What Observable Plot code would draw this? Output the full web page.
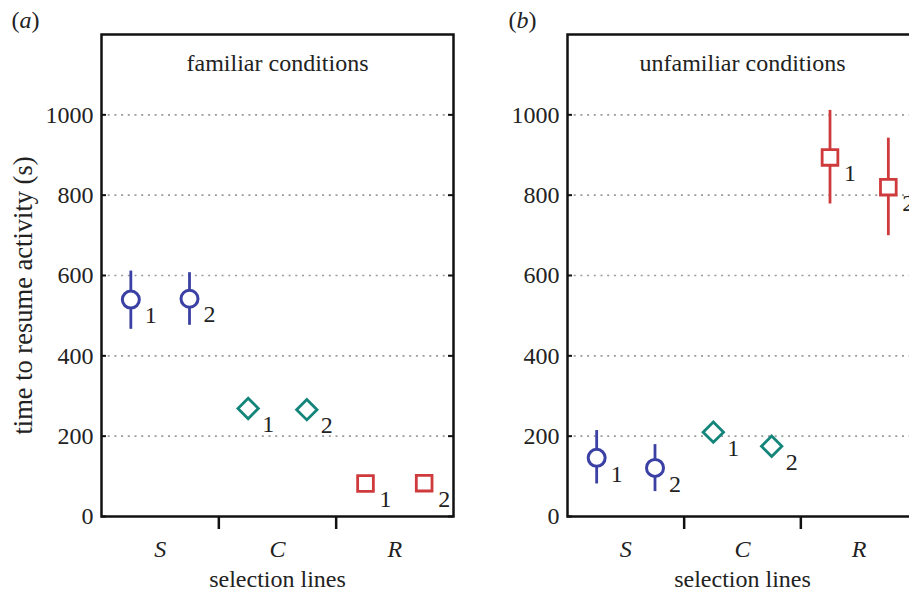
<!DOCTYPE html>
<html>
<head>
<meta charset="utf-8">
<script src="https://cdn.jsdelivr.net/npm/d3@7"></script>
<script src="https://cdn.jsdelivr.net/npm/@observablehq/plot@0.6"></script>
<style>
  html, body { margin: 0; padding: 0; background: #fff; }
  #wrap { position: relative; width: 909px; height: 593px; overflow: hidden; background: #fff; }
  #wrap svg { position: absolute; top: 0; overflow: visible; }
</style>
</head>
<body>
<div id="wrap"></div>
<script>
// ---- data ----
const groups = ["S", "C", "R"];
const lines = ["1", "2"];
const yTicks = [0, 200, 400, 600, 800, 1000];
const groupColors = ["#3b40a4", "#14857a", "#cf3a3d"];
const groupSymbols = ["circle", "diamond2", "square2"];

// familiar conditions (order: S1, S2, C1, C2, R1, R2)
const familiarMean = [540, 542, 269, 266, 82, 83];
const familiarLow  = [466, 476, null, null, null, null];
const familiarHigh = [611, 607, null, null, null, null];

// unfamiliar conditions
const unfamiliarMean = [146, 121, 210, 175, 894, 820];
const unfamiliarLow  = [81, 62, null, null, 778, 699];
const unfamiliarHigh = [214, 179, null, null, 1011, 942];

const FONT = "Liberation Serif";
const FS = 24;

function makeRows(means, lows, highs) {
  const rows = [];
  groups.forEach((g, gi) => {
    lines.forEach((l, li) => {
      const k = gi * lines.length + li;
      rows.push({group: g, line: l, pos: gi + (li === 0 ? 0.25 : 0.75),
                 mean: means[k], low: lows[k], high: highs[k]});
    });
  });
  return rows;
}

function panel({means, lows, highs, title, tag, width, marginLeft, marginRight, yTitle, left}) {
  const height = 593, marginTop = 34, marginBottom = 77;
  const frameW = width - marginLeft - marginRight;
  const rows = makeRows(means, lows, highs);
  const txt = {fontSize: FS, fontFamily: FONT, fill: "#222"};
  const marks = [
    Plot.gridY({ticks: yTicks.filter(v => v > 0), stroke: "#9a9a9a", strokeOpacity: 1, strokeWidth: 1.6, strokeDasharray: "2,4.7"}),
    Plot.ruleY(yTicks, {insetRight: frameW - 5, stroke: "#111", strokeWidth: 2}),
    Plot.ruleY(yTicks, {insetLeft: frameW - 5, stroke: "#111", strokeWidth: 2}),
    Plot.axisY({ticks: yTicks, tickSize: 0, tickPadding: 8, tickFormat: d => String(d), label: null, ...txt}),
    Plot.axisX({ticks: [1, 2], tickSize: 13, tickFormat: () => "", strokeWidth: 2.5, stroke: "#111", label: null}),
    Plot.frame({stroke: "#111", strokeWidth: 2.5}),
    Plot.ruleX(rows.filter(d => d.low != null), {x: "pos", y1: "low", y2: "high", stroke: "group", strokeWidth: 2.8}),
    Plot.dot(rows, {filter: d => d.group === "S", x: "pos", y: "mean", stroke: "group", symbol: "group", fill: "white", r: 8.5, strokeWidth: 3}),
    Plot.dot(rows, {filter: d => d.group === "C", x: "pos", y: "mean", stroke: "group", symbol: "group", fill: "white", r: 9.2, strokeWidth: 2.8}),
    Plot.dot(rows, {filter: d => d.group === "R", x: "pos", y: "mean", stroke: "group", symbol: "group", fill: "white", r: 10, strokeWidth: 2.8}),
    Plot.text(rows, {x: "pos", y: "mean", text: "line", dx: 14, dy: 16, textAnchor: "start", lineAnchor: "middle", ...txt}),
    Plot.text([title], {text: d => d, frameAnchor: "top", dy: 29, lineAnchor: "middle", textAnchor: "middle", ...txt}),
    Plot.text(groups, {x: (d, i) => i + 0.5, text: d => d, frameAnchor: "bottom", dy: 33, lineAnchor: "middle", fontStyle: "italic", ...txt}),
    Plot.text(["selection lines"], {text: d => d, frameAnchor: "bottom", dy: 63, lineAnchor: "middle", textAnchor: "middle", ...txt}),
    Plot.text([tag], {text: d => d, frameAnchor: "top-left", dx: tag === "(a)" ? -76 : -45, dy: -14, textAnchor: "middle", lineAnchor: "middle", ...txt})
  ];
  if (yTitle) {
    marks.push(Plot.text([yTitle], {text: d => d, frameAnchor: "left", dx: -78, dy: 20, rotate: -90, textAnchor: "middle", lineAnchor: "middle", ...txt, fontSize: 26.5}));
  }
  const svg = Plot.plot({
    width, height, marginLeft, marginRight, marginTop, marginBottom,
    style: "font-family: 'Liberation Serif', serif; font-size: 24px; background: white; overflow: visible;",
    x: {domain: [0, 3], axis: null},
    y: {domain: [0, 1200], axis: null},
    color: {domain: groups, range: groupColors},
    symbol: {domain: groups, range: groupSymbols},
    marks
  });
  const sel = d3.select(svg);
  sel.selectAll("g").each(function() {
    if (this.hasAttribute("font-family")) this.setAttribute("font-family", FONT);
  });
  sel.selectAll("text").each(function() {
    this.setAttribute("font-family", FONT);
    this.style.setProperty("font-family", "'Liberation Serif', serif", "important");
  });
  // italicize the letter inside the panel tag
  sel.selectAll("text").each(function() {
    if (this.textContent === tag) {
      const letter = tag.slice(1, -1);
      this.textContent = "";
      const t = d3.select(this);
      t.append("tspan").text("(");
      t.append("tspan").attr("font-style", "italic").text(letter);
      t.append("tspan").text(")");
    }
  });
  svg.style.left = left + "px";
  return svg;
}

const wrap = document.getElementById("wrap");
wrap.appendChild(panel({
  means: familiarMean, lows: familiarLow, highs: familiarHigh,
  title: "familiar conditions", tag: "(a)", width: 460, marginLeft: 101, marginRight: 7,
  yTitle: "time to resume activity (s)", left: 0
}));
wrap.appendChild(panel({
  means: unfamiliarMean, lows: unfamiliarLow, highs: unfamiliarHigh,
  title: "unfamiliar conditions", tag: "(b)", width: 470, marginLeft: 107, marginRight: 13,
  yTitle: null, left: 460
}));
</script>
</body>
</html>
